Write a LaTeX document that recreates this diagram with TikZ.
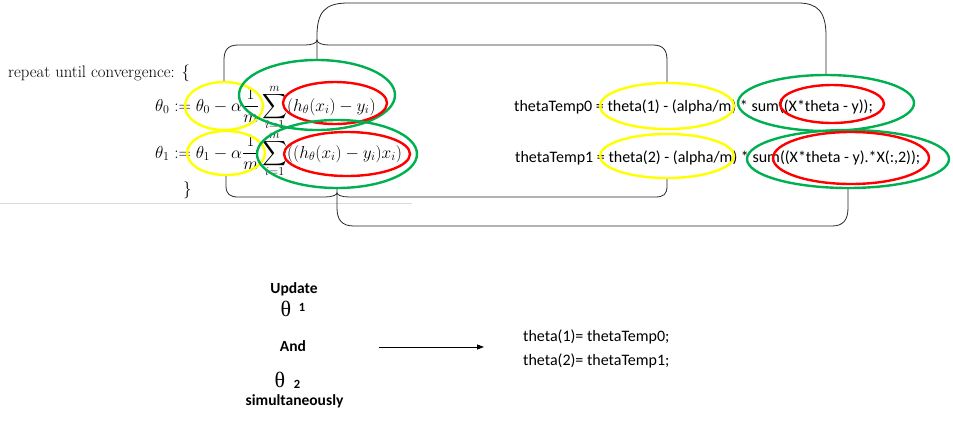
\documentclass[tikz,border=0pt]{standalone}
\usepackage{amsmath}
\usepackage{fontspec}
\usetikzlibrary{arrows.meta,shapes.geometric}
\newfontfamily\codefont{Carlito}
\newfontfamily\greekfont{Liberation Serif}

\definecolor{ringyellow}{HTML}{FFFF00}
\definecolor{ringgreen}{HTML}{00B050}
\definecolor{ringred}{HTML}{FF0000}

% pull the limits of big operators closer to the symbol
\newcommand{\tightlimits}{%
  \fontdimen9\textfont3=0.4pt \fontdimen10\textfont3=0.6pt
  \fontdimen11\textfont3=1pt \fontdimen12\textfont3=4pt
  \fontdimen13\textfont3=0pt}

\tikzset{
  ring/.style={ellipse, draw=#1, line width=2.4pt, inner sep=0pt},
  bracket/.style={draw=black!85, line width=0.8pt},
  mathline/.style={anchor=base west, inner sep=0pt, font=\fontsize{17}{20}\selectfont},
  codeline/.style={anchor=base west, inner sep=0pt, font=\codefont\fontsize{16}{19}\selectfont},
  label/.style={inner sep=0pt, font=\codefont\bfseries\fontsize{15.5}{18}\selectfont},
  index/.style={inner sep=0pt, font=\codefont\bfseries\fontsize{12.5}{15}\selectfont},
  bigtheta/.style={inner sep=0pt, font=\greekfont\fontsize{22}{24}\selectfont},
}

\begin{document}
\begin{tikzpicture}[x=1pt,y=-1pt]
\useasboundingbox (0,0) rectangle (953,421);

% gradient-descent update rule
\node[mathline, font=\fontsize{16.7}{20}\selectfont] (rep) at (8,77) {repeat until convergence: \{};
\node[mathline] (eq0) at (155,111)
  {$\tightlimits\displaystyle \theta_0 := \theta_0 - \alpha\frac{1}{m}\sum_{i=1}^{m}(h_\theta(x_i)-y_i)$};
\node[mathline] (eq1) at (155,158)
  {$\tightlimits\displaystyle \theta_1 := \theta_1 - \alpha\frac{1}{m}\sum_{i=1}^{m}((h_\theta(x_i)-y_i)x_i)$};
\node[mathline] (close) at (183,194) {\}};
\draw[black!15, line width=1pt] (0,203) -- (412,203);

% the same rule as code
\node[codeline] (tmp0) at (514,111) {thetaTemp0 = theta(1) - (alpha/m) * sum((X*theta - y));};
\node[codeline] (tmp1) at (515,162) {thetaTemp1 = theta(2) - (alpha/m) * sum((X*theta - y).*X(:,2));};

% rings around matching terms
\node[ring=ringyellow, minimum width=78pt, minimum height=48pt] (y1) at (224,106) {};
\node[ring=ringyellow, minimum width=78pt, minimum height=44pt] (y2) at (226,153) {};
\node[ring=ringgreen, minimum width=156pt, minimum height=70pt] (g1) at (317,95) {};
\node[ring=ringred, minimum width=104pt, minimum height=42pt] (r1) at (335,103) {};
\node[ring=ringgreen, minimum width=160pt, minimum height=68pt] (g2) at (337,154) {};
\node[ring=ringred, minimum width=126pt, minimum height=44pt] (r2) at (347,154) {};
\node[ring=ringyellow, minimum width=134pt, minimum height=46pt] (y3) at (667,106) {};
\node[ring=ringyellow, minimum width=134pt, minimum height=44pt] (y4) at (667,156) {};
\node[ring=ringgreen, minimum width=176pt, minimum height=56pt] (g3) at (826,103) {};
\node[ring=ringred, minimum width=104pt, minimum height=38pt] (r3) at (832,104) {};
\node[ring=ringgreen, minimum width=202pt, minimum height=58pt] (g4) at (848,159) {};
\node[ring=ringred, minimum width=156pt, minimum height=52pt] (r4) at (851,158) {};

% brackets joining the yellow terms
\draw[bracket] (y1.north) -- (224,60) .. controls (224,50) and (228,45) .. (238,45)
  -- (305,45) .. controls (312,45) and (317,43) .. (317,40)
  .. controls (317,43) and (322,45) .. (329,45)
  -- (653,45) .. controls (663,45) and (667,50) .. (667,60) -- (y3.north);
\draw[bracket] (y2.south) -- (226,186) .. controls (226,194) and (230,197) .. (238,197)
  -- (325,197) .. controls (332,197) and (337,195) .. (337,193)
  .. controls (337,195) and (342,197) .. (349,197)
  -- (655,197) .. controls (664,197) and (667,194) .. (667,186) -- (y4.south);

% brackets joining the green terms
\draw[bracket] (g1.north) -- (317,36) .. controls (317,12) and (325,3) .. (348,3)
  -- (798,3) .. controls (818,3) and (826,12) .. (826,36) -- (g3.north);
\draw[bracket] (g2.south) -- (337,208) .. controls (337,220) and (342,226) .. (354,226)
  -- (832,226) .. controls (843,226) and (848,220) .. (848,208) -- (g4.south);

% simultaneous update
\node[label, anchor=base] (upd) at (294,293) {Update};
\node[bigtheta] (th1) at (286,309) {θ};
\node[index, anchor=base] (n1) at (302,311) {1};
\node[label, anchor=base] (and) at (293,351) {And};
\node[bigtheta] (th2) at (280,380) {θ};
\node[index, anchor=base] (n2) at (297,388) {2};
\node[label, anchor=base] (sim) at (294.5,405) {simultaneously};

\coordinate (arrA) at (379,347);
\coordinate (arrB) at (484,347);
\draw[line width=0.8pt, -{Triangle[length=7pt,width=5pt]}] (arrA) -- (arrB);

\node[codeline] (set0) at (523,341) {theta(1)= thetaTemp0;};
\node[codeline] (set1) at (523,365) {theta(2)= thetaTemp1;};
\end{tikzpicture}
\end{document}
